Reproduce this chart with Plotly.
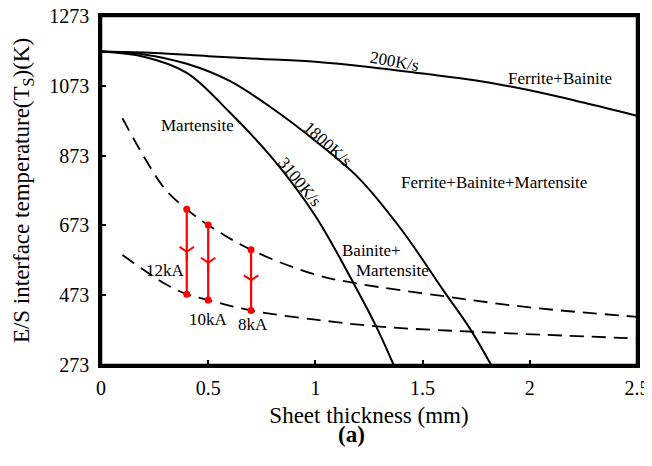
import plotly.graph_objects as go

# ---- data ----
x_200 = [0, 0.25, 0.5, 0.75, 1.0, 1.25, 1.5, 1.75, 2.0, 2.25, 2.5]
t_200 = [1171, 1167, 1158, 1150, 1142, 1127, 1108, 1088, 1060, 1025, 987]

x_1800 = [0, 0.2, 0.4, 0.6, 0.8, 1.0, 1.2, 1.4, 1.6, 1.72, 1.82]
t_1800 = [1171, 1163, 1136, 1087, 1008, 915, 810, 662, 484, 378, 273]

x_3100 = [0, 0.2, 0.4, 0.6, 0.8, 1.0, 1.2, 1.29, 1.365]
t_3100 = [1171, 1156, 1110, 997, 865, 700, 482, 375, 273]

x_upper = [0.1, 0.2, 0.3, 0.4, 0.5, 0.7, 1.0, 1.2, 1.6, 2.0, 2.5]
t_upper = [980, 870, 776, 719, 674, 603, 532, 506, 470, 438, 411]

x_lower = [0.1, 0.2, 0.3, 0.4, 0.5, 0.7, 1.0, 1.3, 1.75, 2.5]
t_lower = [588, 545, 505, 476, 459, 429, 403, 383, 368, 349]

arrow_x = [0.4, 0.5, 0.7]
arrow_top = [719, 674, 603]
arrow_bottom = [476, 459, 429]
arrow_labels = ["12kA", "10kA", "8kA"]

y_ticks = [273, 473, 673, 873, 1073, 1273]
x_ticks = [0, 0.5, 1, 1.5, 2, 2.5]
x_tick_text = ["0", "0.5", "1", "1.5", "2", "2.5"]

FONT = "Liberation Serif"

fig = go.Figure()

for xs, ys in [(x_200, t_200), (x_1800, t_1800), (x_3100, t_3100)]:
    fig.add_trace(go.Scatter(x=xs, y=ys, mode="lines",
                             line=dict(color="black", width=2, shape="spline", smoothing=1.0),
                             hoverinfo="skip", showlegend=False))

for xs, ys in [(x_upper, t_upper), (x_lower, t_lower)]:
    fig.add_trace(go.Scatter(x=xs, y=ys, mode="lines",
                             line=dict(color="black", width=1.8, dash="14px,8px",
                                       shape="spline", smoothing=1.0),
                             hoverinfo="skip", showlegend=False))

for xa, yt, yb in zip(arrow_x, arrow_top, arrow_bottom):
    fig.add_trace(go.Scatter(x=[xa, xa], y=[yt, yb], mode="lines+markers",
                             line=dict(color="red", width=2.2),
                             marker=dict(color="red", size=7),
                             hoverinfo="skip", showlegend=False))
    fig.add_trace(go.Scatter(x=[xa], y=[(yt + yb) / 2], mode="markers",
                             marker=dict(symbol="y-down-open", size=12, color="red",
                                         line=dict(color="red", width=2)),
                             hoverinfo="skip", showlegend=False))

def note(x, y, text, angle=0, size=17, xanchor="center"):
    fig.add_annotation(x=x, y=y, text=text, showarrow=False, textangle=angle,
                       xanchor=xanchor, font=dict(family=FONT, size=size, color="black"))

note(0.45, 958, "Martensite")
note(0.93, 797, "3100K/s", angle=51)
note(1.06, 906, "1800K/s", angle=42)
note(1.37, 1144, "200K/s", angle=10)
note(2.14, 1095, "Ferrite+Bainite")
note(1.834, 797, "Ferrite+Bainite+Martensite")
note(1.263, 600, "Bainite+")
note(1.36, 543, "Martensite")
note(0.30, 545, arrow_labels[0], size=17)
note(0.50, 402, arrow_labels[1], size=17)
note(0.707, 390, arrow_labels[2], size=17)

fig.add_annotation(xref="paper", yref="paper", x=0.468, y=-0.2, yanchor="middle",
                   text="<b>(a)</b>", showarrow=False,
                   font=dict(family=FONT, size=23, color="black"))

# plot frame
fig.add_shape(type="rect", xref="paper", yref="paper", x0=0, x1=1, y0=0, y1=1,
              line=dict(color="black", width=2.5), layer="above")

axis_common = dict(showgrid=False, zeroline=False, showline=True, linecolor="black",
                   linewidth=2.5, mirror=True, ticks="inside", ticklen=5,
                   tickwidth=1.5, tickcolor="black", automargin=False,
                   ticklabeloverflow="allow",
                   tickfont=dict(family=FONT, size=20, color="black"))

fig.update_xaxes(range=[0, 2.5], tickvals=x_ticks, ticktext=x_tick_text,
                 ticklabelstandoff=3,
                 title=dict(text="Sheet thickness (mm)", standoff=10,
                            font=dict(family=FONT, size=23, color="black")),
                 **axis_common)
fig.update_yaxes(range=[273, 1273], tickvals=y_ticks,
                 ticklabelstandoff=5,
                 title=dict(text="E/S interface temperature(T<sub>S</sub>)(K)", standoff=14,
                            font=dict(family=FONT, size=23, color="black")),
                 **axis_common)

fig.update_layout(width=644, height=450, margin=dict(l=93, r=15, t=8, b=93),
                  plot_bgcolor="white", paper_bgcolor="white",
                  font=dict(family=FONT, color="black"))

fig.write_html("out.html")
